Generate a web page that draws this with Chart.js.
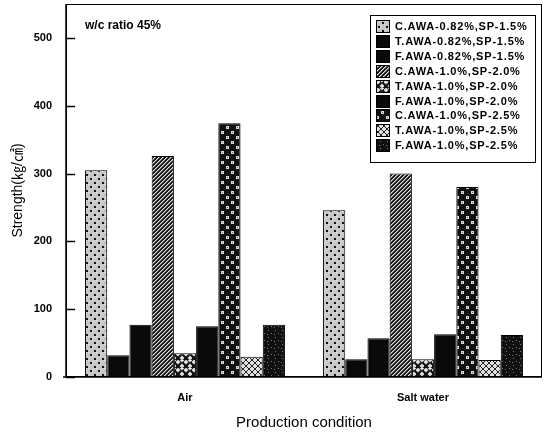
<!DOCTYPE html>
<html>
<head>
<meta charset="utf-8">
<script src="https://cdn.jsdelivr.net/npm/chart.js@4.4.1/dist/chart.umd.min.js"></script>
<style>
html,body{margin:0;padding:0;background:#fff}
#wrap{width:547px;height:432px}
</style>
</head>
<body>
<div id="wrap"><canvas id="c" width="547" height="432"></canvas></div>
<script>
// ====== Data ======
const categories = ["Air", "Salt water"];
const seriesLabels = [
  "C.AWA-0.82%,SP-1.5%", "T.AWA-0.82%,SP-1.5%", "F.AWA-0.82%,SP-1.5%",
  "C.AWA-1.0%,SP-2.0%",  "T.AWA-1.0%,SP-2.0%",  "F.AWA-1.0%,SP-2.0%",
  "C.AWA-1.0%,SP-2.5%",  "T.AWA-1.0%,SP-2.5%",  "F.AWA-1.0%,SP-2.5%"
];
const airValues  = [305, 32, 77, 326, 35, 75, 374, 30, 77];
const saltValues = [246, 26, 57, 300, 26, 63, 280, 25, 62];
const yTicks = [0, 100, 200, 300, 400, 500];
const yMax = 550;
const note = "w/c ratio 45%";

const FONT = "'Liberation Sans', Arial, 'Noto Sans CJK KR', sans-serif";
const canvas = document.getElementById('c');

// Helpers: small repeating fill patterns
function pat(size, bg, draw){
  const c = document.createElement('canvas'); c.width = c.height = size;
  const g = c.getContext('2d');
  g.fillStyle = bg; g.fillRect(0, 0, size, size);
  if(draw) draw(g, size);
  return canvas.getContext('2d').createPattern(c, 'repeat');
}
function px(g, col, pts){ g.fillStyle = col; pts.forEach(p => g.fillRect(p[0], p[1], p[2]||1, p[3]||1)); }

const fills = [
  // stipple: light grey with dark dots
  pat(8, '#c6c6c6', g => { px(g,'#eee',[[0,0],[5,1],[1,5],[4,3],[7,6]]); px(g,'#111',[[2,2,2,2],[6,6,2,2]]); }),
  '#0a0a0a',
  '#0a0a0a',
  // diagonal hatch
  pat(4, '#161616', g => { for(let i=0;i<4;i++){ px(g,'#e6e6e6',[[i,3-i]]); px(g,'#777',[[i,(4-i)%4]]); } }),
  // diamonds
  pat(8, '#111', g => { g.fillStyle='#ddd';
    [[2,2],[6,6]].forEach(([x,y])=>{ g.beginPath(); g.moveTo(x,y-2.5); g.lineTo(x+2.5,y); g.lineTo(x,y+2.5); g.lineTo(x-2.5,y); g.closePath(); g.fill(); });
    g.beginPath(); g.moveTo(6,-2.5); g.lineTo(8.5,0); g.lineTo(6,2.5); g.lineTo(3.5,0); g.fill(); }),
  '#0a0a0a',
  // polka dots
  pat(10, '#111', g => { px(g,'#ddd',[[1,1,3,3],[6,6,3,3]]); px(g,'#666',[[2,2],[7,7]]); }),
  // crosshatch
  pat(6, '#e2e2e2', g => { for(let i=0;i<6;i++){ px(g,'#222',[[i,i],[i,5-i]]); } }),
  // dark speckle
  pat(7, '#101010', g => { px(g,'#777',[[2,1],[5,4],[1,5]]); })
];

const datasets = seriesLabels.map((lab, i) => ({
  label: lab,
  data: [airValues[i], saltValues[i]],
  backgroundColor: fills[i],
  borderColor: '#000',
  borderWidth: 1,
  categoryPercentage: 0.84,
  barPercentage: 1.0
}));

// Frame, inward ticks, note
const framePlugin = {
  id: 'frame',
  afterDatasetsDraw(chart){
    const {ctx, chartArea: a, scales: {y}} = chart;
    ctx.save();
    ctx.strokeStyle = '#000';
    ctx.lineWidth = 1;
    ctx.strokeRect(Math.round(a.left)+0.5, Math.round(a.top)+0.5, Math.round(a.right-a.left)-1, Math.round(a.bottom-a.top)-1);
    ctx.lineWidth = 1.5;
    ctx.beginPath();
    ctx.moveTo(a.left, a.top); ctx.lineTo(a.left, a.bottom);
    ctx.moveTo(a.left-3, a.bottom); ctx.lineTo(a.right, a.bottom);
    ctx.stroke();
    yTicks.forEach(v => {
      const py = Math.round(y.getPixelForValue(v)) + 0.5;
      ctx.beginPath(); ctx.moveTo(a.left, py); ctx.lineTo(a.left + 9, py); ctx.stroke();
    });
    ctx.fillStyle = '#000';
    ctx.font = 'bold 12px ' + FONT;
    ctx.textBaseline = 'middle';
    ctx.fillText(note, 85, 26);
    ctx.restore();
  }
};

// Boxed legend inside the plot
const boxLegend = {
  id: 'boxLegend',
  afterDraw(chart){
    const ctx = chart.ctx;
    ctx.save();
    ctx.strokeStyle = '#000'; ctx.lineWidth = 1;
    ctx.fillStyle = '#fff';
    ctx.fillRect(370, 15, 165, 147);
    ctx.strokeRect(370.5, 15.5, 165, 147);
    ctx.font = 'bold 11px ' + FONT;
    ctx.letterSpacing = '0.8px';
    ctx.textBaseline = 'middle';
    chart.data.datasets.forEach((ds, i) => {
      const y = Math.round(20 + i * 14.9);
      ctx.fillStyle = ds.backgroundColor;
      ctx.fillRect(376, y, 14, 13);
      ctx.strokeRect(376.5, y + 0.5, 13, 12);
      ctx.fillStyle = '#000';
      ctx.fillText(ds.label, 395, y + 7);
    });
    ctx.restore();
  }
};

new Chart(canvas, {
  type: 'bar',
  data: { labels: categories, datasets: datasets },
  options: {
    responsive: false,
    animation: false,
    layout: { padding: { left: 0, right: 5, top: 4, bottom: 0 } },
    plugins: { legend: { display: false }, tooltip: { enabled: false } },
    scales: {
      x: {
        grid: { display: false }, border: { display: false },
        ticks: { color: '#000', font: { family: FONT, size: 11, weight: 'bold' }, padding: 6 },
        title: { display: true, text: 'Production condition', color: '#000', font: { family: FONT, size: 15 }, padding: { top: 0, bottom: 0 } },
        afterFit(s){ s.height = 55; s.paddingLeft = 0; s.paddingRight = 0; }
      },
      y: {
        min: 0, max: yMax,
        grid: { display: false }, border: { display: false },
        ticks: { stepSize: 100, includeBounds: false, color: '#000', font: { family: FONT, size: 11, weight: 'bold' }, padding: 6 },
        title: { display: true, text: 'Strength(㎏/㎠)', color: '#000', font: { family: FONT, size: 14 }, padding: { top: 10, bottom: 0 } },
        afterFit(s){ s.width = 66; s.paddingTop = 0; s.paddingBottom = 0; }
      }
    }
  },
  plugins: [framePlugin, boxLegend]
});
</script>
</body>
</html>
